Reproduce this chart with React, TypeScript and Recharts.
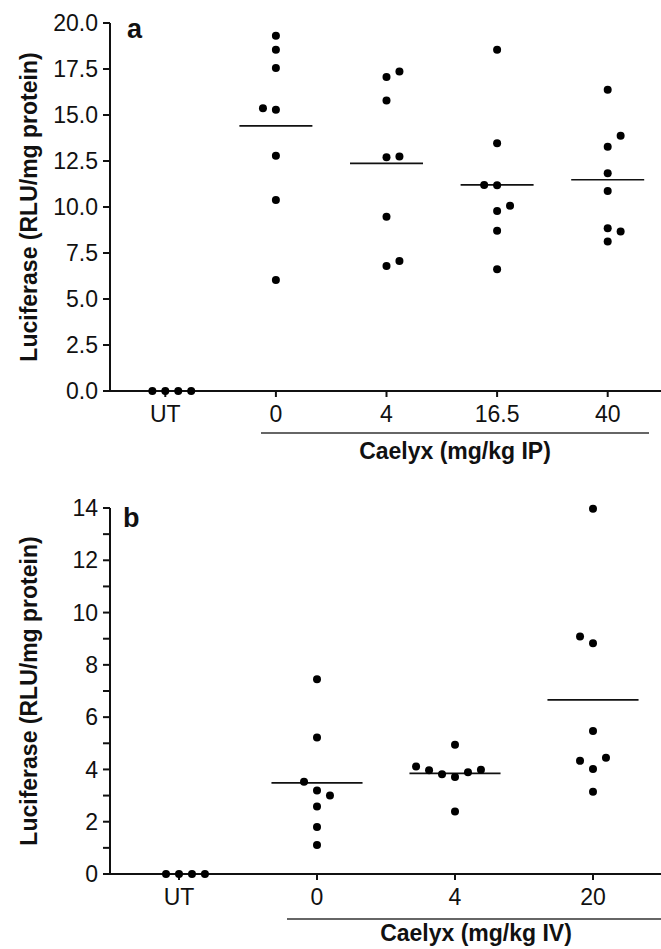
import React from 'react';
import { ScatterChart, Scatter, XAxis, YAxis, ReferenceLine } from 'recharts';

// panel a: Caelyx IP
const IP_CATEGORIES = ['UT', '0', '4', '16.5', '40'];
const IP_UT = [0, 0, 0, 0];
const IP_UT_SLOTS = [-1, 0, 1, 2];
const IP_0 = [19.31, 18.55, 17.55, 15.37, 15.28, 12.79, 10.38, 6.03];
const IP_0_SLOTS = [0, 0, 0, -1, 0, 0, 0, 0];
const IP_4 = [17.06, 17.37, 15.79, 12.71, 12.74, 9.47, 6.79, 7.06];
const IP_4_SLOTS = [0, 1, 0, 0, 1, 0, 0, 1];
const IP_16 = [18.55, 13.47, 11.2, 11.18, 10.07, 9.78, 8.71, 6.62];
const IP_16_SLOTS = [0, 0, -1, 0, 1, 0, 0, 0];
const IP_40 = [16.37, 13.87, 13.28, 11.83, 10.87, 8.84, 8.67, 8.12];
const IP_40_SLOTS = [0, 1, 0, 0, 0, 0, 1, 0];
const IP_Y_TICKS = [0, 2.5, 5, 7.5, 10, 12.5, 15, 17.5, 20];

// panel b: Caelyx IV
const IV_CATEGORIES = ['UT', '0', '4', '20'];
const IV_UT = [0, 0, 0, 0];
const IV_UT_SLOTS = [-1, 0, 1, 2];
const IV_0 = [7.45, 5.22, 3.53, 3.19, 3.0, 2.58, 1.8, 1.11];
const IV_0_SLOTS = [0, 0, -1, 0, 1, 0, 0, 0];
const IV_4 = [4.94, 4.11, 3.97, 3.82, 3.71, 3.89, 3.99, 2.39];
const IV_4_SLOTS = [0, -3, -2, -1, 0, 1, 2, 0];
const IV_20 = [13.97, 9.08, 8.83, 5.47, 4.33, 4.02, 4.45, 3.15];
const IV_20_SLOTS = [0, -1, 0, 0, -1, 0, 1, 0];
const IV_Y_TICKS = [0, 1, 2, 3, 4, 5, 6, 7, 8, 9, 10, 11, 12, 13, 14];

const FONT = '"Liberation Sans", Arial, sans-serif';
const INK = '#111';

type Group = { values: number[]; slots: number[]; mean: boolean };

const toPoints = (groups: Group[], jitter: number) =>
  groups.flatMap((g, i) => g.values.map((v, k) => ({ x: i + g.slots[k] * jitter, y: v })));

const avg = (arr: number[]) => arr.reduce((s, v) => s + v, 0) / arr.length;

const Dot = (props: any) => <circle cx={props.cx} cy={props.cy} r={4} fill="#000" />;

interface PanelProps {
  groups: Group[];
  categories: string[];
  yTicks: number[];
  yMax: number;
  yFormat: (v: number) => string;
  jitter: number;
  letter: string;
  groupLabel: string;
  height: number;
  margin: { top: number; right: number; bottom: number; left: number };
  letterPos: [number, number];
  titleY: number;
  bracket: [number, number, number];
  groupLabelPos: [number, number];
}

const Panel: React.FC<PanelProps> = (p) => {
  const data = toPoints(p.groups, p.jitter);
  const n = p.categories.length;
  return (
    <ScatterChart width={661} height={p.height} margin={p.margin}>
      <XAxis
        type="number"
        dataKey="x"
        domain={[-0.5, n - 0.5]}
        ticks={p.categories.map((_, i) => i)}
        interval={0}
        tickFormatter={(i: number) => p.categories[i] ?? ''}
        height={40}
        tickSize={6}
        tickMargin={9}
        axisLine={{ stroke: INK, strokeWidth: 2 }}
        tickLine={{ stroke: INK, strokeWidth: 2 }}
        tick={{ fill: INK, fontSize: 23, fontFamily: FONT }}
      />
      <YAxis
        type="number"
        dataKey="y"
        domain={[0, p.yMax]}
        ticks={p.yTicks}
        interval={0}
        tickFormatter={p.yFormat}
        width={100}
        tickSize={7}
        tickMargin={5}
        axisLine={{ stroke: INK, strokeWidth: 2 }}
        tickLine={{ stroke: INK, strokeWidth: 2 }}
        tick={{ fill: INK, fontSize: 23, fontFamily: FONT }}
      />
      {p.groups.map((g, i) =>
        g.mean ? (
          <ReferenceLine
            key={`mean-${i}`}
            segment={[
              { x: i - 0.33, y: avg(g.values) },
              { x: i + 0.33, y: avg(g.values) },
            ]}
            stroke={INK}
            strokeWidth={1.7}
            ifOverflow="visible"
          />
        ) : null
      )}
      <Scatter data={data} shape={<Dot />} isAnimationActive={false} />
      <text
        x={37}
        y={p.titleY}
        transform={`rotate(-90, 37, ${p.titleY})`}
        textAnchor="middle"
        fontSize={23}
        fontWeight="bold"
        fontFamily={FONT}
        fill={INK}
      >
        Luciferase (RLU/mg protein)
      </text>
      <text x={p.letterPos[0]} y={p.letterPos[1]} fontSize={27} fontWeight="bold" fontFamily={FONT} fill={INK}>
        {p.letter}
      </text>
      <line x1={p.bracket[0]} x2={p.bracket[1]} y1={p.bracket[2]} y2={p.bracket[2]} stroke="#333" strokeWidth={1.4} />
      <text
        x={p.groupLabelPos[0]}
        y={p.groupLabelPos[1]}
        textAnchor="middle"
        fontSize={23}
        fontWeight="bold"
        fontFamily={FONT}
        fill={INK}
      >
        {p.groupLabel}
      </text>
    </ScatterChart>
  );
};

const App: React.FC = () => {
  const ipGroups: Group[] = [
    { values: IP_UT, slots: IP_UT_SLOTS, mean: false },
    { values: IP_0, slots: IP_0_SLOTS, mean: true },
    { values: IP_4, slots: IP_4_SLOTS, mean: true },
    { values: IP_16, slots: IP_16_SLOTS, mean: true },
    { values: IP_40, slots: IP_40_SLOTS, mean: true },
  ];
  const ivGroups: Group[] = [
    { values: IV_UT, slots: IV_UT_SLOTS, mean: false },
    { values: IV_0, slots: IV_0_SLOTS, mean: true },
    { values: IV_4, slots: IV_4_SLOTS, mean: true },
    { values: IV_20, slots: IV_20_SLOTS, mean: true },
  ];

  return (
    <div style={{ position: 'absolute', left: 0, top: 0, width: 661, height: 949, background: '#fff' }}>
      <div style={{ position: 'absolute', left: 0, top: 0 }}>
        <Panel
          groups={ipGroups}
          categories={IP_CATEGORIES}
          yTicks={IP_Y_TICKS}
          yMax={20}
          yFormat={(v) => v.toFixed(1)}
          jitter={0.117}
          letter="a"
          groupLabel="Caelyx (mg/kg IP)"
          height={470}
          margin={{ top: 23, right: -2, bottom: 39, left: 10 }}
          letterPos={[127, 38]}
          titleY={207}
          bracket={[261, 649, 433]}
          groupLabelPos={[455, 459]}
        />
      </div>
      <div style={{ position: 'absolute', left: 0, top: 480 }}>
        <Panel
          groups={ivGroups}
          categories={IV_CATEGORIES}
          yTicks={IV_Y_TICKS}
          yMax={14}
          yFormat={(v) => (v % 2 === 0 ? String(v) : '')}
          jitter={0.094}
          letter="b"
          groupLabel="Caelyx (mg/kg IV)"
          height={469}
          margin={{ top: 28, right: -1, bottom: 35, left: 10 }}
          letterPos={[123, 47]}
          titleY={211}
          bracket={[287, 661, 439]}
          groupLabelPos={[476, 461]}
        />
      </div>
    </div>
  );
};

export default App;
